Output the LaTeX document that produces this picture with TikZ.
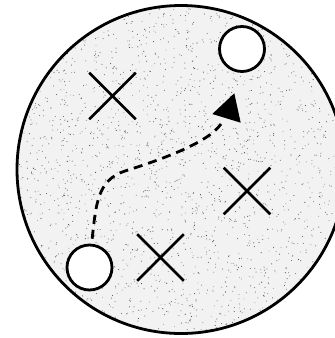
\documentclass[tikz,border=0pt]{standalone}
\usetikzlibrary{shapes.misc}
\begin{document}
\begin{tikzpicture}[x=1pt,y=-1pt,
  hole/.style={circle,draw,fill=white,line width=2.8pt,minimum size=45pt,inner sep=0pt},
  xmark/.style={cross out,draw,line width=2.6pt,minimum size=44pt,inner sep=0pt},
  path/.style={line width=2.8pt,dash pattern=on 9pt off 6pt},
  head/.style={fill=black}]
\useasboundingbox (0,0) rectangle (335,338);
\fill[white] (0,0) rectangle (335,338);
% disc with stipple
\begin{scope}
  \clip (181,169.5) circle (164);
  \fill[black!5] (181,169.5) circle (164);
  \pgfmathsetseed{7}
  \foreach \i in {1,...,2400}{
    \pgfmathsetmacro\px{15+rnd*325}
    \pgfmathsetmacro\py{4+rnd*332}
    \pgfmathsetmacro\pg{30+rnd*45}
    \fill[black!\pg] (\px,\py) circle (0.55);
  }
\end{scope}
\draw[line width=2.8pt] (181,169.5) circle (164);
% crosses
\node[xmark] (x1) at (112.5,96) {};
\node[xmark] (x2) at (247,191) {};
\node[xmark] (x3) at (160.5,257.5) {};
% holes
\node[hole] (c1) at (89.5,267.5) {};
\node[hole] (c2) at (242,49) {};
% path
\coordinate (m) at (125,171);
\coordinate (e) at (221,124);
\draw[path,shorten <=5pt] (c1.85) .. controls (96,205) and (97,180) .. (m)
  .. controls (160,160) and (208,143) .. (e);
\fill[head] (212.3,114) -- (234.3,93.3) -- (240.7,122.7) -- cycle;
\end{tikzpicture}
\end{document}
